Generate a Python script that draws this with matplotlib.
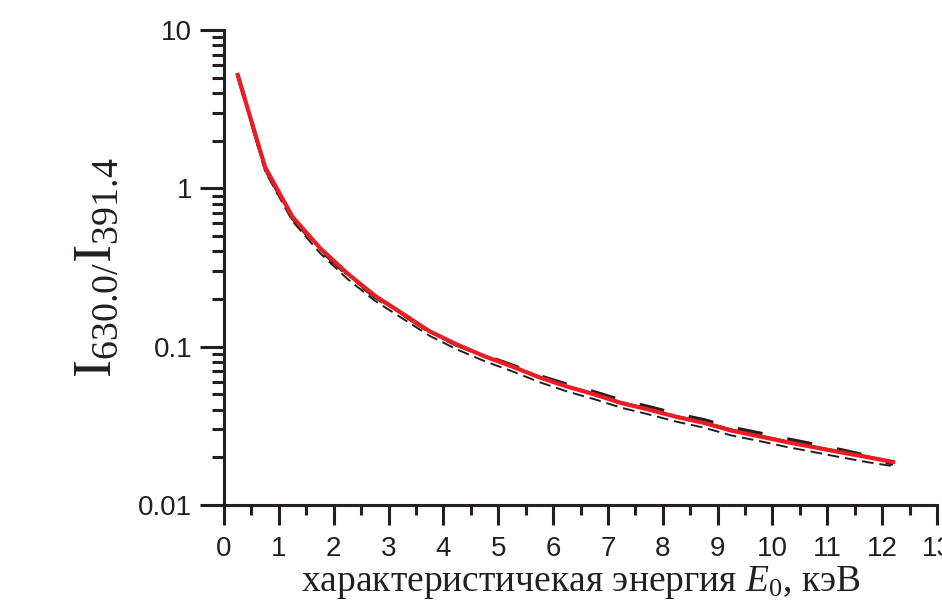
import numpy as np
import matplotlib
matplotlib.use('Agg')
import matplotlib.pyplot as plt
from matplotlib.ticker import LogLocator, MultipleLocator, NullFormatter, FixedFormatter, FixedLocator

plt.rcParams['mathtext.fontset'] = 'custom'
plt.rcParams['mathtext.rm'] = 'Liberation Serif'
plt.rcParams['mathtext.it'] = 'Liberation Serif:italic'

''' data read off the picture '''
E0 = [0.25, 0.75, 1.25, 1.75, 2.25, 2.75, 3.25, 3.75, 4.25, 4.75, 5.25, 5.75,
      6.25, 6.75, 7.25, 7.75, 8.25, 8.75, 9.25, 9.75, 10.25, 10.75, 11.25, 11.75, 12.2]
ratio_red = [5.2, 1.36, 0.66, 0.42, 0.29, 0.21, 0.162, 0.125, 0.103, 0.087, 0.075, 0.064,
             0.056, 0.050, 0.044, 0.040, 0.036, 0.033, 0.0295, 0.0272, 0.025, 0.0232, 0.0215, 0.0200, 0.0187]
ratio_dash = [5.2, 1.33, 0.645, 0.41, 0.283, 0.206, 0.160, 0.124, 0.102, 0.088, 0.0765, 0.0655,
              0.0578, 0.0518, 0.0458, 0.0417, 0.0376, 0.0345, 0.0309, 0.0285, 0.0262, 0.0242, 0.0223, 0.0204, 0.0181]
ratio_dashdot = [5.2, 1.34, 0.65, 0.415, 0.286, 0.208, 0.161, 0.1245, 0.1025, 0.0868, 0.075, 0.0642,
                 0.0562, 0.0502, 0.0443, 0.0402, 0.0362, 0.0333, 0.0298, 0.0274, 0.0252, 0.0233, 0.0216, 0.0201, 0.0186]
ratio_thin = [5.1, 1.28, 0.62, 0.39, 0.268, 0.195, 0.151, 0.117, 0.096, 0.081, 0.070, 0.0597,
              0.0522, 0.0466, 0.0411, 0.0373, 0.0336, 0.0308, 0.0275, 0.0254, 0.0233, 0.0216, 0.0200, 0.0186, 0.0176]

xticks = list(range(0, 14))
yticks = [0.01, 0.1, 1, 10]
ytick_labels = ['0.01', '0.1', '1', '10']

ink = '#231f20'
red = '#ed1c24'

fig = plt.figure(figsize=(9.42, 6.04), dpi=100)
ax = fig.add_axes([224 / 942, 99 / 604, (937 - 224) / 942, (505 - 30) / 604])

ax.plot(E0, ratio_thin, color=ink, lw=1.4, dashes=(6, 3), zorder=2)
ax.plot(E0, ratio_dashdot, color=ink, lw=2.2, dashes=(7, 4, 1, 4), zorder=2)
ax.plot(E0, ratio_dash, color=ink, lw=2.6, dashes=(7, 7), zorder=2)
ax.plot(E0, ratio_red, color=red, lw=3.0, zorder=3)

ax.set_yscale('log')
ax.set_xlim(0, 13)
ax.set_ylim(0.01, 10)

ax.xaxis.set_major_locator(FixedLocator(xticks))
ax.xaxis.set_minor_locator(MultipleLocator(0.5))
ax.yaxis.set_major_locator(FixedLocator(yticks))
ax.yaxis.set_major_formatter(FixedFormatter(ytick_labels))
ax.yaxis.set_minor_locator(LogLocator(base=10, subs=np.arange(2, 10), numticks=20))
ax.yaxis.set_minor_formatter(NullFormatter())

for s in ['top', 'right']:
    ax.spines[s].set_visible(False)
for s in ['left', 'bottom']:
    ax.spines[s].set_linewidth(2.2)
    ax.spines[s].set_color(ink)

tick_family = ['Liberation Sans Narrow', 'Liberation Sans']
ax.tick_params(axis='y', which='major', direction='out', length=17, width=2.2, color=ink, pad=6)
ax.tick_params(axis='y', which='minor', direction='out', length=8.5, width=2.2, color=ink)
ax.tick_params(axis='x', which='major', direction='out', length=14.5, width=2.2, color=ink, pad=8)
ax.tick_params(axis='x', which='minor', direction='out', length=7, width=2.2, color=ink)
for lab in ax.get_xticklabels() + ax.get_yticklabels():
    lab.set_fontfamily(tick_family)
    lab.set_fontsize(20)
    lab.set_color(ink)

ax.set_xlabel(r'характеристичекая энергия $E_{\mathit{0}}$, кэВ', family='Liberation Serif',
              fontsize=27, color=ink, labelpad=1)
ax.set_ylabel(r'$\mathrm{I}_{630.0/}\mathrm{I}_{391.4}$', fontsize=39, color=ink, labelpad=12)

fig.savefig('out.png', dpi=100)
